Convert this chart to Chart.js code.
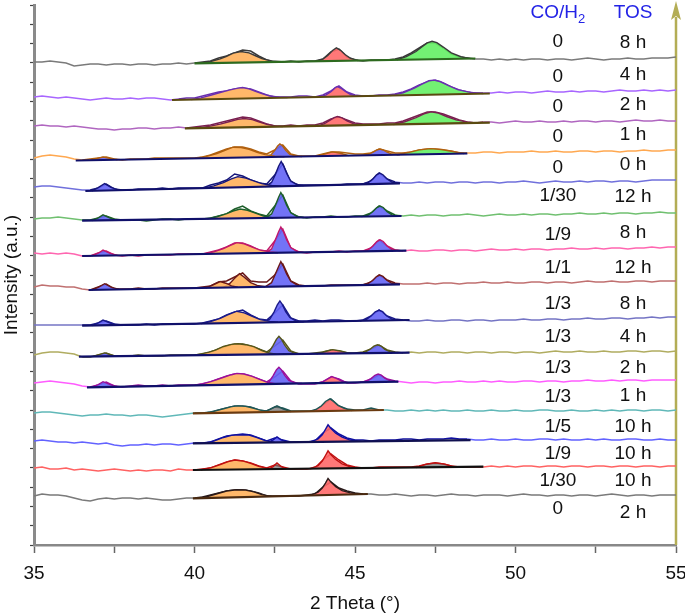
<!DOCTYPE html>
<html><head><meta charset="utf-8">
<script src="https://cdn.jsdelivr.net/npm/chart.js@4.4.0/dist/chart.umd.min.js"></script>
<style>html,body{margin:0;padding:0;background:#fff;overflow:hidden}</style>
</head><body>
<canvas id="c" width="685" height="616"></canvas>
<script>
// ---------- DATA ----------
const thetaStart = 35, thetaStep = 0.25;           // raw sampling of 2θ
const coH2 = ["0","0","0","0","0","1/30","1/9","1/1","1/3","1/3","1/3","1/3","1/5","1/9","1/30","0"];
const tos  = ["8 h","4 h","2 h","1 h","0 h","12 h","8 h","12 h","8 h","4 h","2 h","1 h","10 h","10 h","10 h","2 h"];
const xTickLabels = [35, 40, 45, 50, 55];
// stack offset of each pattern (intensity at 35°)
const offsets = [483,448,419,388,358,326,291,258,220,190,162,132,104,77,49];
// raw diffraction intensity relative to offset, one value per 0.25°
const raw1 = [0,0,1,0,-1,-4,-3,-2,-2,-3,-2,-2,-3,-2,-2,-3,-2,-2,-1,-2,-1,0,1,4,6,9,12,11,6,2,0,0,1,0,1,1,3,10,13,5,2,1,2,2,2,3,5,9,14,19,19,14,8,5,4,3,3,2,3,2,3,2,3,3,2,3,3,2,3,4,3,2,3,3,4,3,3,4,4,4,5];
const raw2 = [0,1,0,-1,0,-1,-2,-3,-2,-1,-2,-2,-1,-2,-1,-1,-2,-3,-2,-1,-1,1,3,5,6,8,9,8,5,2,0,0,0,1,1,0,2,6,11,5,2,1,1,2,2,3,5,8,12,15,17,14,10,7,5,4,4,4,5,4,5,5,4,5,6,5,5,6,5,6,6,5,6,7,6,6,7,6,7,6,7];
const raw3 = [0,1,0,0,-1,0,-1,-2,-3,-3,-4,-3,-3,-2,-2,-3,-2,-2,-1,-2,-1,0,1,3,5,7,9,8,5,2,0,0,1,0,1,1,3,7,9,6,3,2,2,2,3,3,5,8,11,14,14,12,9,6,4,3,4,4,3,4,5,4,4,5,4,4,5,4,5,5,4,5,5,4,5,6,5,5,6,5,5];
const raw4 = [-1,1,2,1,0,-2,-3,-2,-1,0,-2,-3,-2,-2,-2,-1,-1,-1,-1,-1,-1,0,2,5,8,10,10,8,5,3,7,12,3,1,1,1,3,5,5,4,3,3,4,8,6,4,4,5,7,8,8,7,6,4,4,4,5,5,4,5,5,5,6,5,5,6,5,5,6,6,5,6,6,5,6,6,7,6,6,7,7];
const raw5 = [0,1,1,0,-1,-2,-3,-3,-1,3,-2,-3,-3,-2,-2,-2,-1,-2,-1,-1,-1,-1,2,4,7,13,11,7,4,3,12,23,5,2,2,2,2,2,2,3,3,3,6,14,8,5,4,4,5,4,5,5,4,5,5,4,5,5,4,5,5,6,5,4,5,6,5,5,6,5,6,6,5,6,6,5,6,7,7,7,7];
const raw6 = [0,1,1,2,1,0,-1,-1,1,3,0,-1,-1,-1,-2,-1,0,0,-1,0,0,0,1,3,5,10,13,8,5,3,13,24,6,2,1,2,2,3,2,2,3,3,6,13,8,4,3,4,3,4,4,3,4,4,5,4,3,4,5,4,4,5,4,5,5,4,5,5,6,5,5,6,5,6,6,5,6,6,7,6,6];
const raw7 = [1,0,1,0,1,0,-2,-2,1,3,-1,-2,-1,-2,-1,-1,-1,-1,0,0,0,0,2,4,7,11,11,8,4,3,13,25,6,2,1,2,2,2,3,2,3,3,6,14,8,4,3,4,3,3,4,4,3,4,4,3,4,5,4,4,5,4,5,5,4,5,5,6,5,5,6,5,6,6,5,6,6,7,6,7,7];
const raw8 = [0,2,1,1,0,0,-2,-3,0,3,-2,-2,-2,-1,-2,-2,-1,-1,-1,-1,-1,0,1,5,6,10,14,6,5,5,12,23,6,2,1,1,1,2,2,2,2,2,5,12,7,4,3,3,3,4,3,4,4,3,4,4,5,4,4,5,4,4,5,5,4,5,5,4,5,6,5,5,6,5,5,6,6,5,6,6,6];
const raw9 = [0,0,0,0,0,0,0,0,2,4,1,0,0,0,1,0,1,1,1,1,1,2,4,6,10,13,15,10,6,5,12,20,7,4,4,5,4,5,5,4,4,5,9,15,9,6,5,4,4,5,4,4,5,5,4,5,5,4,5,5,5,6,5,5,6,6,5,6,6,7,6,6,7,7,6,7,7,8,7,8,8];
const raw10 = [0,2,3,3,2,1,-2,-2,0,2,-1,-1,-1,0,-1,-1,-1,0,0,0,0,1,3,6,9,11,11,9,6,3,9,15,4,1,1,2,3,5,4,2,2,3,6,10,5,3,2,3,2,3,3,2,3,3,2,3,3,2,3,3,2,3,3,2,3,4,3,3,4,3,3,4,3,3,4,4,3,4,4,3,4];
const raw11 = [0,1,2,1,0,-1,-3,-4,-2,1,-3,-4,-3,-2,-3,-3,-2,-3,-2,-2,-2,-1,1,4,7,9,9,7,4,1,6,12,2,-1,-1,-1,1,6,4,0,0,1,4,8,4,2,1,0,1,1,0,1,1,2,1,1,2,1,2,1,1,2,2,1,2,2,1,2,2,3,2,2,3,2,3,3,2,3,3,3,3];
const raw12 = [0,1,1,0,-1,-2,-3,-2,-2,-1,-2,-2,-3,-2,-2,-3,-4,-3,-2,-1,0,0,1,3,5,7,7,6,3,2,6,5,2,2,2,2,8,14,7,4,3,3,5,3,3,2,2,3,2,3,2,3,2,2,3,2,2,3,2,2,3,2,2,3,3,2,2,3,2,2,3,2,3,2,3,3,2,3,3,2,3];
const raw13 = [0,1,0,-1,-1,-2,-1,-2,-3,-2,-4,-5,-4,-4,-3,-4,-3,-3,-4,-3,-2,-2,-1,2,5,6,7,6,3,0,3,1,-1,-1,-1,0,8,13,7,3,1,1,0,1,1,1,2,2,1,2,2,2,3,2,2,1,1,2,1,1,2,1,1,2,2,1,2,1,1,2,1,2,1,1,2,2,1,1,2,1,1];
const raw14 = [0,1,-1,-1,0,-2,-1,-2,-3,-2,-1,-2,-3,-2,-3,-2,-2,-3,-1,-2,-2,-1,0,3,6,8,7,5,2,0,3,1,-1,-1,-1,0,8,14,8,3,1,0,0,1,1,1,1,1,2,4,5,4,2,1,1,1,1,2,1,2,1,2,2,1,2,2,1,2,2,1,2,2,1,2,2,1,2,2,1,2,2];
const raw15 = [0,2,1,1,0,-2,-4,-5,-3,-2,-3,-2,-2,-3,-2,-3,-4,-4,-3,-2,-2,-1,1,3,5,6,6,5,3,0,0,0,0,0,1,2,9,14,8,5,3,2,2,1,1,2,1,0,1,1,0,1,2,1,1,0,1,1,1,0,1,2,1,1,0,1,1,0,1,1,0,1,2,1,0,1,1,0,1,1,1];
// linear fit background: [2θ start, level, 2θ end, level] (relative to offset)
const fitBackground = [
  [40.0,-1.3,48.75,3.5],[39.3,-3,49.2,3.5],[39.7,-2.3,49.2,3.3],[36.3,-3.5,48.5,3.5],[36.6,-4,46.4,3.7],
  [36.5,-1.7,46.45,3],[36.5,-2,46.6,3.3],[36.7,-3,46.4,2.7],[36.5,-0.7,46.7,5],[36.4,-1.7,46.7,2.3],
  [36.65,-4.3,46.35,1.3],[39.95,-0.3,45.9,3],[39.95,-2.3,48.6,0.8],[39.95,-2,49.0,1.3],[39.95,-2.3,45.4,2]
];
// fitted peak components: [phase, [2θ, height above background, ...]]
const peaks1 = [["o",[40.2,0,40.5,1.5,40.8,4,41.0,6.5,41.2,9.5,41.45,11,41.7,9.5,41.9,6.5,42.1,3.5,42.4,1,42.7,0]],
  ["r",[43.8,0,44.0,2,44.15,5.5,44.3,10.5,44.42,13,44.55,10.5,44.7,6,44.85,2.5,45.1,0]],
  ["g",[46.3,0,46.6,3,46.9,8,47.1,13,47.25,16.5,47.4,18,47.55,16.5,47.75,12,48.0,6,48.3,2,48.6,0]]];
const peaks2 = [["o",[39.9,0,40.2,1.5,40.5,4,40.8,6.5,41.1,9,41.35,10.5,41.5,11,41.7,9.5,41.9,7,42.1,4.5,42.35,2,42.65,0.5,42.9,0]],
  ["r",[43.9,0,44.1,2,44.25,5,44.38,9,44.45,10,44.55,8.5,44.7,5,44.85,2,45.05,0]],
  ["g",[46.1,0,46.5,2.5,46.85,7,47.1,11,47.3,14,47.45,14.5,47.65,13,47.9,9,48.2,4.5,48.6,1.5,49.0,0]]];
const peaks3 = [["o",[40.1,0,40.45,1.5,40.8,3.5,41.1,6,41.35,8,41.55,8.7,41.8,7.5,42.0,5,42.25,2.5,42.55,0.5,42.75,0]],
  ["r",[43.85,0,44.05,2,44.2,5,44.35,8,44.45,9,44.6,7.5,44.75,4.5,44.95,1.5,45.15,0]],
  ["g",[46.2,0,46.55,2.5,46.9,6.5,47.15,10,47.37,12,47.6,10.5,47.85,7,48.15,3.5,48.5,1,48.8,0]]];
const peaks4 = [["b",[36.75,0,36.95,1.5,37.15,3,37.35,1.5,37.6,0]],
  ["o",[40.0,0,40.35,1.5,40.7,4.5,40.95,7.5,41.2,10.5,41.45,10,41.7,8,41.95,5,42.2,2.5,42.5,0.8,42.8,0]],
  ["b",[42.2,0,42.38,2,42.5,6.5,42.59,11,42.66,13,42.74,11,42.84,6.5,42.96,2.6,43.15,0.5,43.35,0]],
  ["r",[43.8,0,44.05,2,44.3,4,44.55,2.5,44.8,0]],
  ["b",[45.2,0,45.4,0.8,45.55,2.7,45.67,5,45.78,6,45.88,5,46.0,2.7,46.15,0.8,46.4,0]],
  ["g",[46.3,0,46.65,2,47.0,4.5,47.35,5.5,47.7,4.5,48.0,2.5,48.4,0]]];
const peaks5 = [["b",[36.8,0,37.0,3,37.2,7,37.4,3,37.65,0]],
  ["o",[40.3,0,40.6,2,40.9,5,41.15,8.5,41.35,10.6,41.6,9,41.85,6,42.1,3,42.4,1,42.7,0]],
  ["b",[42.2,0,42.4,4,42.52,12,42.62,20,42.7,24.7,42.78,20,42.88,12,43.0,5,43.2,1,43.4,0]],
  ["b",[45.2,0,45.4,1.3,45.55,4.8,45.67,9,45.77,10.7,45.87,9,45.99,4.8,46.15,1.3,46.4,0]]];
const peaks6 = [["b",[36.8,0,37.0,2.5,37.15,5.5,37.35,2.5,37.6,0]],
  ["o",[40.4,0,40.7,2,41.0,5,41.2,7.5,41.42,9.3,41.65,8,41.9,5,42.15,2,42.45,0]],
  ["b",[42.2,0,42.4,4,42.52,12.5,42.62,20.5,42.69,25.3,42.77,20.5,42.87,12.5,43.0,5,43.2,1,43.4,0]],
  ["b",[45.2,0,45.4,1.2,45.55,4.6,45.68,8.8,45.78,10.3,45.88,8.8,46.0,4.6,46.15,1.2,46.4,0]]];
const peaks7 = [["b",[36.8,0,37.0,2.5,37.15,5.5,37.35,2.5,37.6,0]],
  ["o",[40.3,0,40.6,2,40.9,5,41.1,8,41.32,10.8,41.55,9.5,41.8,6,42.05,3,42.35,1,42.6,0]],
  ["b",[42.2,0,42.4,4,42.52,13,42.62,21,42.69,25.7,42.77,21,42.87,13,43.0,5,43.2,1,43.4,0]],
  ["b",[45.2,0,45.4,1.3,45.55,5,45.68,9.6,45.78,11.3,45.88,9.6,46.0,5,46.15,1.3,46.4,0]]];
const peaks8 = [["b",[36.8,0,37.0,2.5,37.2,6,37.4,2.5,37.65,0]],
  ["o",[40.35,0,40.55,2.5,40.8,6,41.0,4,41.15,1.5,41.35,0]],
  ["o",[40.9,0,41.1,4,41.25,9,41.4,13.5,41.55,10,41.75,4.5,41.95,1.5,42.2,0]],
  ["b",[42.2,0,42.4,4,42.52,12.5,42.62,20,42.69,24.8,42.77,20,42.87,12.5,43.0,5,43.2,1,43.4,0]],
  ["b",[45.2,0,45.4,1.2,45.55,4.3,45.67,8.2,45.77,9.6,45.87,8.2,45.99,4.3,46.15,1.2,46.4,0]]];
const peaks9 = [["b",[36.8,0,37.0,2.5,37.15,5.3,37.35,2.5,37.6,0]],
  ["o",[40.2,0,40.5,2,40.8,5,41.05,8.5,41.32,11.8,41.55,10,41.8,6.5,42.05,3,42.35,1,42.6,0]],
  ["b",[42.15,0,42.35,3.5,42.48,10.5,42.58,17.5,42.66,21.3,42.74,17.5,42.84,10.5,42.97,4.5,43.17,1,43.4,0]],
  ["b",[45.15,0,45.35,1.2,45.5,4.6,45.63,8.8,45.75,10.3,45.86,8.8,45.98,4.6,46.15,1.2,46.4,0]]];
const peaks10 = [["b",[36.85,0,37.05,2,37.2,3.5,37.35,2,37.55,0]],
  ["o",[40.0,0,40.2,1.3,40.45,3,40.65,5,40.9,8.5,41.15,10.5,41.36,11,41.6,10,41.85,8,42.1,4,42.3,1.5,42.55,0]],
  ["b",[42.15,0,42.33,2.7,42.45,9,42.55,15,42.63,18,42.71,15,42.81,9,42.94,3.6,43.13,0.8,43.35,0]],
  ["r",[43.8,0,44.05,2,44.3,4,44.55,2.5,44.85,0]],
  ["b",[45.1,0,45.3,1,45.46,3.7,45.59,7,45.7,8.3,45.81,7,45.93,3.7,46.1,1,46.35,0]]];
const peaks11 = [["b",[36.8,0,37.0,2.5,37.15,5.3,37.35,2.5,37.6,0]],
  ["o",[40.0,0,40.25,1.5,40.5,3.5,40.7,5.5,40.95,8,41.15,10,41.32,11.2,41.55,10.5,41.8,8,42.05,4.5,42.3,1.5,42.55,0]],
  ["b",[42.15,0,42.33,2.5,42.45,8.4,42.55,14,42.63,16.7,42.71,14,42.81,8.4,42.94,3.3,43.13,0.7,43.35,0]],
  ["r",[43.8,0,44.0,1.5,44.15,4,44.28,6.3,44.42,4.5,44.6,1.5,44.8,0]],
  ["b",[45.15,0,45.35,1,45.5,3.6,45.62,6.8,45.72,8,45.82,6.8,45.94,3.6,46.1,1,46.35,0]]];
const peaks12 = [["o",[40.3,0,40.6,1.5,40.9,4,41.15,6,41.35,6.6,41.6,6,41.85,4,42.05,2,42.35,0]],
  ["k",[42.15,0,42.35,2.5,42.57,6,42.75,3,43.0,0]],
  ["r",[43.6,0,43.8,2,43.95,5,44.08,9.5,44.22,12,44.33,9.5,44.47,5.5,44.65,2.5,44.9,0]]];
const peaks13 = [["o",[40.3,0,40.6,2,40.9,5.5,41.15,7.5,41.4,8,41.7,7.5,41.95,5,42.2,2,42.5,0]],
  ["b",[42.3,0,42.45,2.5,42.57,5.5,42.7,2.5,42.9,0]],
  ["r",[43.6,0,43.85,3,43.98,7,44.08,12.5,44.16,17,44.26,13,44.4,8.5,44.6,4.5,44.85,1.5,45.2,0]]];
const peaks14 = [["o",[40.2,0,40.5,2,40.8,5,41.05,8,41.26,9.5,41.5,8.5,41.75,6,42.0,3,42.3,0.5,42.5,0]],
  ["k",[42.3,0,42.45,2.5,42.57,6,42.7,2.5,42.85,0]],
  ["r",[43.6,0,43.85,3,43.98,7.5,44.08,13,44.16,17.6,44.26,13.5,44.4,9,44.6,4.5,44.85,1.5,45.2,0]],
  ["k",[46.9,0,47.2,3,47.5,4.5,47.8,3,48.1,0]]];
const peaks15 = [["o",[40.1,0,40.4,1.5,40.7,4,41.0,6.5,41.3,7.5,41.6,7,41.85,5,42.1,2,42.4,0]],
  ["r",[43.6,0,43.85,3,43.98,7,44.08,12,44.16,16.5,44.26,12.5,44.4,8,44.6,4,44.85,1.5,45.2,0]]];

// ---------- STYLE ----------
const rawColors = ['#7a7a7a','#a866ff','#b066c0','#ffa850','#7070dc','#70c070','#ff66b0','#c07070','#7474c4','#b0ac60','#ff5cff','#60b8b8','#6262ff','#ff6262','#7a7a7a'];
const fitColors = ['#3a3a3a','#6a2fb0','#7a2050','#b0600f','#15157a','#1d5e2a','#c0186a','#6a1818','#1a1a8a','#55551a','#9a109a','#1f5555','#1010a0','#c01010','#2a1a1a'];
const baseColors = ['#2d6a1f','#5a4a10','#5a4a10','#10106a','#10106a','#10106a','#10106a','#10106a','#10106a','#10106a','#10106a','#6a3a10','#101050','#101010','#4a2a10'];
const peakFill = {o:'rgba(255,176,90,0.9)', b:'rgba(100,100,245,0.9)', r:'rgba(255,105,105,0.9)', g:'rgba(100,240,100,0.9)', k:'rgba(110,110,110,0.7)'};
const labelLayout = {coX:51.32, tosX:53.66, headerY:532,
  coY:[503,468,438,408,377,349,310,277,241,208,177,148,118,91,64,36],
  tosY:[502,470,440,410,380,348,312,277,241,208,177,149,118,91,64,32]};
const FONT = '"Liberation Sans", Arial, Helvetica, sans-serif';

// ---------- BUILD ----------
const rawSets = [raw1,raw2,raw3,raw4,raw5,raw6,raw7,raw8,raw9,raw10,raw11,raw12,raw13,raw14,raw15];
const peakSets = [peaks1,peaks2,peaks3,peaks4,peaks5,peaks6,peaks7,peaks8,peaks9,peaks10,peaks11,peaks12,peaks13,peaks14,peaks15];
const datasets = [];
rawSets.forEach((raw, t) => {
  const off = offsets[t];
  const [xs, ds, xe, de] = fitBackground[t];
  const bg = x => ds + (de - ds) * (x - xs) / (xe - xs);
  const inFit = c => c.p0.parsed.x >= xs - 1e-6 && c.p1.parsed.x <= xe + 1e-6;
  datasets.push({
    data: raw.map((d, i) => ({x: thetaStart + i * thetaStep, y: off + d})),
    borderColor: rawColors[t], borderWidth: 1.4, pointRadius: 0, tension: 0, order: 3,
    segment: {borderColor: c => inFit(c) ? fitColors[t] : undefined,
              borderWidth: c => inFit(c) ? 1.5 : undefined}
  });
  peakSets[t].forEach(([kind, pts]) => {
    const data = [];
    for (let k = 0; k < pts.length; k += 2) data.push({x: pts[k], y: off + bg(pts[k]) + pts[k + 1]});
    datasets.push({data, fill: 'shape', backgroundColor: peakFill[kind], borderColor: fitColors[t],
      borderWidth: 1.4, pointRadius: 0, tension: 0, order: 2});
  });
  datasets.push({data: [{x: xs, y: off + ds}, {x: xe, y: off + de}], borderColor: baseColors[t],
    borderWidth: 2.2, pointRadius: 0, order: 1});
});

const decor = {
  id: 'decor',
  beforeDatasetsDraw(chart) {
    const {ctx, chartArea: a} = chart;
    const x = chart.scales.x.getPixelForValue(55);
    ctx.save();
    ctx.strokeStyle = '#b3ad55'; ctx.lineWidth = 2.5;
    ctx.beginPath(); ctx.moveTo(x, a.bottom); ctx.lineTo(x, a.top + 12); ctx.stroke();
    ctx.fillStyle = '#b3ad55';
    ctx.beginPath(); ctx.moveTo(x, a.top - 4); ctx.lineTo(x - 5, a.top + 15); ctx.lineTo(x, a.top + 11);
    ctx.lineTo(x + 5, a.top + 15); ctx.closePath(); ctx.fill();
    ctx.restore();
  },
  afterDatasetsDraw(chart) {
    const {ctx} = chart; const sx = chart.scales.x, sy = chart.scales.y;
    ctx.save();
    ctx.textAlign = 'center'; ctx.textBaseline = 'middle';
    ctx.font = '19px ' + FONT; ctx.fillStyle = '#111';
    const cx = sx.getPixelForValue(labelLayout.coX), tx = sx.getPixelForValue(labelLayout.tosX);
    coH2.forEach((s, i) => ctx.fillText(s, cx, sy.getPixelForValue(labelLayout.coY[i])));
    tos.forEach((s, i) => ctx.fillText(s, tx, sy.getPixelForValue(labelLayout.tosY[i])));
    // headers
    const hy = sy.getPixelForValue(labelLayout.headerY);
    ctx.fillStyle = '#2323e6';
    ctx.font = '19px ' + FONT;
    const w1 = ctx.measureText('CO/H').width;
    ctx.font = '13px ' + FONT;
    const w2 = ctx.measureText('2').width;
    const x0 = cx - (w1 + w2) / 2;
    ctx.textAlign = 'left';
    ctx.font = '19px ' + FONT; ctx.fillText('CO/H', x0, hy);
    ctx.font = '13px ' + FONT; ctx.fillText('2', x0 + w1, hy + 6);
    ctx.textAlign = 'center'; ctx.font = '19px ' + FONT;
    ctx.fillText('TOS', tx, hy);
    ctx.restore();
  }
};

Chart.defaults.font.family = FONT;
Chart.defaults.font.size = 19;
Chart.defaults.color = '#111';

new Chart(document.getElementById('c'), {
  type: 'line',
  data: {datasets},
  options: {
    responsive: false, animation: false, devicePixelRatio: 1, events: [],
    layout: {padding: {top: 5, right: 9, left: 0, bottom: 0}},
    plugins: {legend: {display: false}, tooltip: {enabled: false}},
    scales: {
      x: {type: 'linear', min: 35, max: 55,
        afterFit: s => { s.height = 71; s.paddingLeft = 0; s.paddingRight = 0; },
        border: {color: '#888', width: 2.5},
        grid: {drawOnChartArea: false, drawTicks: true, tickLength: 8, tickColor: '#666', tickWidth: 1.5},
        ticks: {stepSize: 2.5, padding: 9, autoSkip: false, maxRotation: 0, color: '#111',
          font: {size: 19}, callback: v => xTickLabels.includes(v) ? String(v) : ''},
        title: {display: true, text: '2 Theta (°)', font: {size: 19}, color: '#111', padding: {top: 0, bottom: 1}}
      },
      y: {type: 'linear', min: 0, max: 540,
        afterFit: s => { s.width = 34; s.paddingTop = 0; s.paddingBottom = 0; },
        border: {color: '#8a8a8a', width: 3},
        grid: {drawOnChartArea: false, drawTicks: true, tickLength: 4, tickColor: '#444', tickWidth: 1.2},
        ticks: {display: false, stepSize: 540 / 28},
        title: {display: true, text: 'Intensity (a.u.)', font: {size: 19}, color: '#111', padding: {top: 0, bottom: 0}}
      }
    }
  },
  plugins: [decor]
});
</script>
</body></html>
